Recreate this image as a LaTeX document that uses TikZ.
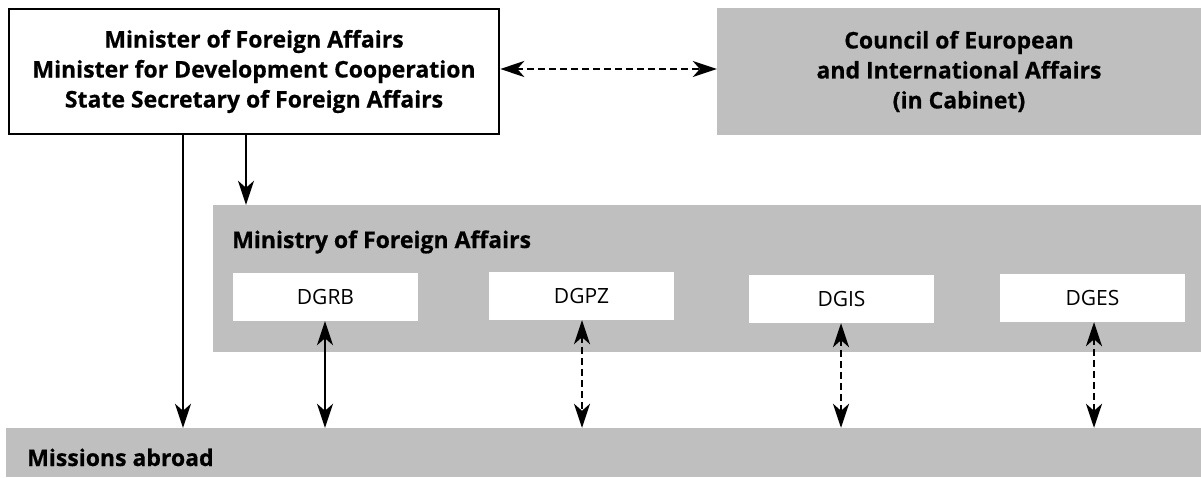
\documentclass[tikz,border=0pt]{standalone}
\usepackage{fontspec}
\setmainfont{Open Sans}[BoldFeatures={FakeBold=0.6}]
\usetikzlibrary{arrows.meta}
\definecolor{boxgray}{RGB}{191,191,191}
\tikzset{
  gbox/.style={fill=boxgray, draw=none, inner sep=0pt},
  wbox/.style={fill=white, draw=none, inner sep=0pt, font=\fontsize{21}{25}\selectfont},
  btext/.style={font=\bfseries\fontsize{23}{30}\selectfont, align=center, inner sep=0pt},
  arr/.style={line width=2.6pt, -{Stealth[length=24pt,width=16pt,inset=7pt]}},
  darr/.style={line width=2.6pt, {Stealth[length=24pt,width=16pt,inset=7pt]}-{Stealth[length=24pt,width=16pt,inset=7pt]}},
  dashline/.style={dash pattern=on 7pt off 4pt}
}
\begin{document}
\begin{tikzpicture}[x=1pt,y=-1pt]
\useasboundingbox (0,0) rectangle (1201,478);
% boxes
\node[draw=black, line width=2.6pt, fill=white, minimum width=490pt, minimum height=125pt, inner sep=0pt] (minister) at (254,71.5) {};
\node[btext] (mintext) at (minister.center) {Minister of Foreign Affairs\\Minister for Development Cooperation\\State Secretary of Foreign Affairs};
\node[gbox, minimum width=484pt, minimum height=127pt] (council) at (959,71.5) {};
\node[btext] (counciltext) at (council.center) {Council of European\\and International Affairs\\(in Cabinet)};
\node[gbox, minimum width=988pt, minimum height=147pt] (ministry) at (707,278.5) {};
\node[btext, anchor=base west] (mintitle) at (232,248) {Ministry of Foreign Affairs};
\node[gbox, minimum width=1195pt, minimum height=49pt] (missions) at (603.5,452.5) {};
\node[btext, anchor=base west] (mistitle) at (27,466) {Missions abroad};
\node[wbox, minimum width=185pt, minimum height=48pt] (dgrb) at (325.5,297) {DGRB};
\node[wbox, minimum width=185pt, minimum height=48pt] (dgpz) at (581.5,296) {DGPZ};
\node[wbox, minimum width=185pt, minimum height=48pt] (dgis) at (841.5,299) {DGIS};
\node[wbox, minimum width=185pt, minimum height=48pt] (dges) at (1092.5,298) {DGES};
% reference coordinates for connector columns
\coordinate (c1) at (183,0);
\coordinate (c2) at (246,0);
\coordinate (c3) at (325,0);
\coordinate (c4) at (582,0);
\coordinate (c5) at (841,0);
\coordinate (c6) at (1094,0);
\coordinate (r1) at (0,69);
% connectors
\draw[darr, dashline] (minister.east |- r1) -- (council.west |- r1);
\draw[arr] (minister.south -| c1) -- (missions.north -| c1);
\draw[arr] (minister.south -| c2) -- (ministry.north -| c2);
\draw[darr] (dgrb.south -| c3) -- (missions.north -| c3);
\draw[darr, dashline] (dgpz.south -| c4) -- (missions.north -| c4);
\draw[darr, dashline] (dgis.south -| c5) -- (missions.north -| c5);
\draw[darr, dashline] (dges.south -| c6) -- (missions.north -| c6);
\end{tikzpicture}
\end{document}
